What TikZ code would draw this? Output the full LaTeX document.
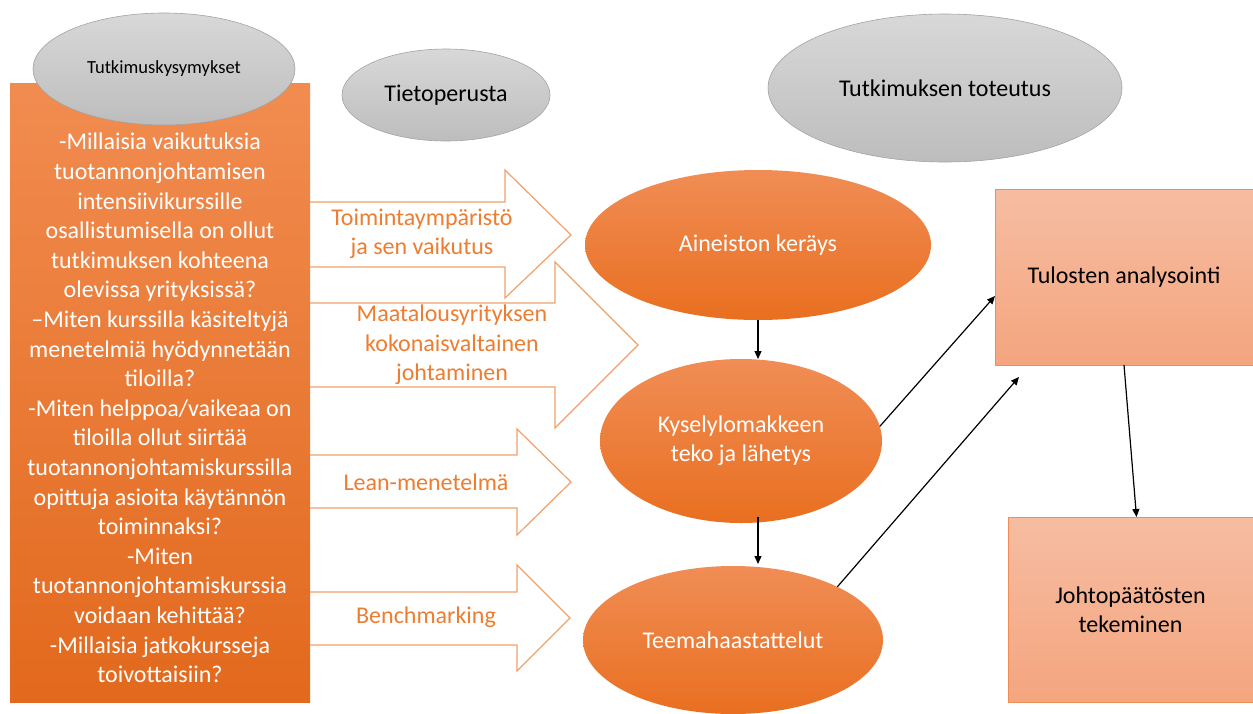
\documentclass[tikz,border=0pt]{standalone}
\usepackage{fontspec}
\setmainfont{Carlito}
\usetikzlibrary{shapes.geometric,arrows.meta,calc}
\definecolor{boxT}{HTML}{F18C50}
\definecolor{boxB}{HTML}{E2691D}
\definecolor{ellT}{HTML}{F08D55}
\definecolor{ellB}{HTML}{E96F20}
\definecolor{salT}{HTML}{F6BDA2}
\definecolor{salBt}{HTML}{F4A57E}
\definecolor{salB}{HTML}{F08D55}
\definecolor{grayT}{HTML}{D8D8D8}
\definecolor{grayBt}{HTML}{BDBDBD}
\definecolor{grayB}{HTML}{A3A3A3}
\definecolor{arrO}{HTML}{F2A06A}
\definecolor{labO}{HTML}{ED7D31}
\begin{document}
\begin{tikzpicture}[x=1pt,y=-1pt,
  grayell/.style={ellipse, draw=grayB, line width=0.6pt, top color=grayT, bottom color=grayBt, inner sep=0pt, outer sep=0pt, font=\fontsize{24}{29}\selectfont},
  orell/.style={ellipse, top color=ellT, bottom color=ellB, inner sep=0pt, outer sep=0pt, text=white, align=center, font=\fontsize{24}{29}\selectfont},
  salbox/.style={rectangle, draw=salB, line width=1pt, top color=salT, bottom color=salBt, inner sep=0pt, outer sep=0pt, align=center, font=\fontsize{24}{29}\selectfont},
  blockarrow/.style={draw=arrO, line width=1.2pt, fill=white, line join=miter},
  arrlabel/.style={text=labO, align=center, font=\fontsize{24}{29.5}\selectfont},
  blk/.style={line width=1.2pt, -{Triangle[length=8pt,width=7pt]}}
]
\useasboundingbox (0,0) rectangle (1253,713);
\fill[white] (0,0) rectangle (1253,713);

% block arrows
\draw[blockarrow] (300,202) -- (505,202) -- (505,170) -- (571,235) -- (505,298) -- (505,267) -- (300,267) -- cycle;
\draw[blockarrow] (300,303) -- (555,303) -- (555,262) -- (638,345) -- (555,428) -- (555,387) -- (300,387) -- cycle;
\draw[blockarrow] (300,455) -- (517,455) -- (517,429) -- (571,482) -- (517,535) -- (517,508) -- (300,508) -- cycle;
\draw[blockarrow] (300,592) -- (517,592) -- (517,565) -- (570,618) -- (517,671) -- (517,645) -- (300,645) -- cycle;

\node[arrlabel] (l1) at (422,234) {Toimintaympäristö\\ja sen vaikutus};
\node[arrlabel] (l2) at (452,345) {Maatalousyrityksen\\kokonaisvaltainen\\johtaminen};
\node[arrlabel] (l3) at (426,482) {Lean-menetelmä};
\node[arrlabel] (l4) at (426,617) {Benchmarking};

% question box
\node[rectangle, top color=boxT, bottom color=boxB, minimum width=300pt, minimum height=619pt, inner sep=0pt, outer sep=0pt] (qbox) at (160,392.5) {};
\node[text=white, align=center, font=\fontsize{24}{29.6}\selectfont] (qtext) at (160,408) {-Millaisia vaikutuksia\\tuotannonjohtamisen\\intensiivikurssille\\osallistumisella on ollut\\tutkimuksen kohteena\\olevissa yrityksissä?\\–Miten kurssilla käsiteltyjä\\menetelmiä hyödynnetään\\tiloilla?\\-Miten helppoa/vaikeaa on\\tiloilla ollut siirtää\\tuotannonjohtamiskurssilla\\opittuja asioita käytännön\\toiminnaksi?\\-Miten\\tuotannonjohtamiskurssia\\voidaan kehittää?\\-Millaisia jatkokursseja\\toivottaisiin?};

% grey headers
\node[grayell, minimum width=262pt, minimum height=112pt, font=\fontsize{18.5}{22}\selectfont] (tk) at (164,69) {Tutkimuskysymykset};
\node[grayell, minimum width=208pt, minimum height=92pt] (tp) at (446,95) {Tietoperusta};
\node[grayell, minimum width=354pt, minimum height=148pt] (tt) at (945,88) {Tutkimuksen toteutus};

% process ellipses
\node[orell, minimum width=346pt, minimum height=150pt] (ain) at (758,245) {Aineiston keräys};
\node[orell, minimum width=282pt, minimum height=164pt] (kys) at (741,441) {Kyselylomakkeen\\teko ja lähetys};
\node[orell, minimum width=300pt, minimum height=148pt] (tee) at (733,640) {Teemahaastattelut};

% result boxes
\node[salbox, minimum width=258pt, minimum height=176pt] (tul) at (1124,277) {Tulosten analysointi};
\node[salbox, minimum width=245pt, minimum height=185pt] (joh) at (1130.5,609.5) {Johtopäätösten\\tekeminen};

% connectors
\coordinate (tulend) at ($(tul.south west)+(24,12)$);
\draw[blk] (ain.south) -- (ain.south |- kys.north);
\draw[blk] ($(kys.south -| ain.south)+(0,-6)$) -- ($(ain.south |- tee.north)+(0,-2)$);
\draw[blk] (kys.6) -- ([yshift=-19pt]tul.west);
\draw[blk] (tee.27) -- (tulend);
\draw[blk] (tul.south) -- ([xshift=6pt]joh.north);
\end{tikzpicture}
\end{document}
